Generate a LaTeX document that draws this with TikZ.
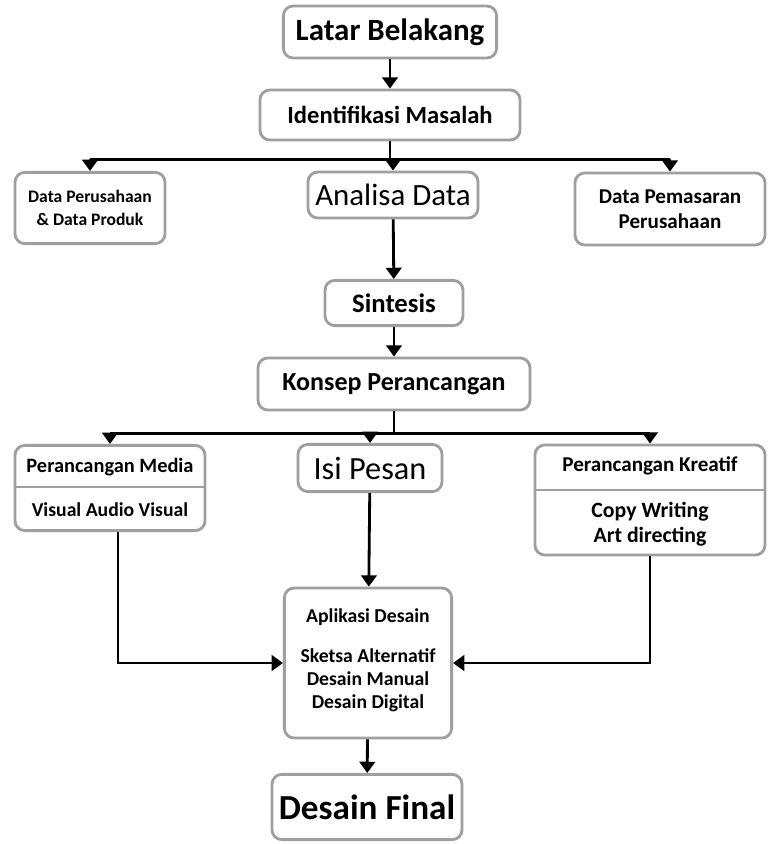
\documentclass[tikz,border=0pt]{standalone}
\usepackage{fontspec}
\setmainfont{Carlito}
\usetikzlibrary{arrows.meta,positioning}

\tikzset{
  kotak/.style={draw=gray!75, line width=2pt, rounded corners=7pt, align=center, inner sep=2pt},
  teks/.style={align=center, inner sep=0pt, font=\bfseries},
  panah/.style={-{Triangle[width=11pt,length=8pt]}, line width=2pt},
  garis/.style={line width=2pt},
  sekat/.style={draw=gray!75, line width=2pt},
}

\begin{document}
\begin{tikzpicture}[x=0.025cm,y=-0.025cm]
	\useasboundingbox (0,0) rectangle (769,844);

	% baris atas
	\node[kotak, minimum width=5.33cm, minimum height=1.3cm, font=\fontsize{22}{24}\selectfont\bfseries] (latar) at (390,32) {Latar Belakang};
	\node[kotak, minimum width=6.5cm, minimum height=1.25cm, font=\fontsize{17.5}{20}\selectfont\bfseries] (ident) at (390,115) {Identifikasi Masalah};

	\node[kotak, minimum width=3.75cm, minimum height=1.78cm, font=\fontsize{12.5}{16}\selectfont\bfseries] (dataA) at (90,208) {Data Perusahaan\\\& Data Produk};
	\node[kotak, minimum width=4.25cm, minimum height=1.15cm, font=\fontsize{22}{24}\selectfont] (analisa) at (393,195) {Analisa Data};
	\node[kotak, minimum width=4.75cm, minimum height=1.8cm, font=\fontsize{15}{18}\selectfont\bfseries] (dataB) at (670,209) {Data Pemasaran\\Perusahaan};

	\node[kotak, minimum width=3.45cm, minimum height=1.13cm, font=\fontsize{19}{22}\selectfont\bfseries] (sintesis) at (394,303) {Sintesis};
	\node[kotak, minimum width=6.8cm, minimum height=1.3cm, font=\fontsize{18.5}{21}\selectfont\bfseries] (konsep) at (394,384) {Konsep Perancangan};

	% baris perancangan
	\node[kotak, minimum width=4.75cm, minimum height=2.13cm] (media) at (110,488) {};
	\draw[sekat] (media.west |- 0,487) -- (media.east |- 0,487);
	\node[teks, font=\fontsize{14.5}{17}\selectfont\bfseries] (media1) at (110,467) {Perancangan Media};
	\node[teks, font=\fontsize{14}{17}\selectfont\bfseries] (media2) at (110,510) {Visual Audio Visual};

	\node[kotak, minimum width=3.6cm, minimum height=1.18cm, font=\fontsize{23}{26}\selectfont] (isi) at (370,468) {Isi Pesan};

	\node[kotak, minimum width=5.75cm, minimum height=2.75cm] (kreatif) at (650,500) {};
	\draw[sekat] (kreatif.west |- 0,490) -- (kreatif.east |- 0,490);
	\node[teks, font=\fontsize{15}{17}\selectfont\bfseries] (kreatif1) at (650,466) {Perancangan Kreatif};
	\node[teks, font=\fontsize{15.5}{18}\selectfont\bfseries] (kreatif2) at (650,524) {Copy Writing\\Art directing};

	% aplikasi
	\node[kotak, minimum width=4.18cm, minimum height=3.75cm] (aplikasi) at (368,663) {};
	\node[teks, font=\fontsize{14}{16.5}\selectfont\bfseries] (aplikasi1) at (368,617) {Aplikasi Desain};
	\node[teks, font=\fontsize{14}{16.5}\selectfont\bfseries] (aplikasi2) at (368,680) {Sketsa Alternatif\\Desain Manual\\Desain Digital};

	\node[kotak, minimum width=4.75cm, minimum height=1.63cm, font=\fontsize{25}{28}\selectfont\bfseries] (final) at (367,807) {Desain Final};

	% panah
	\draw[panah] (latar) -- (ident);
	\draw[garis] (ident.south) -- ++(0,18) coordinate (cabang1);
	\draw[garis] (dataA.north |- cabang1) -- (dataB.north |- cabang1);
	\draw[panah] (dataA.north |- cabang1) -- (dataA.north);
	\draw[panah] (analisa.north |- cabang1) -- (analisa.north);
	\draw[panah] (dataB.north |- cabang1) -- (dataB.north);

	\draw[panah] (analisa) -- (sintesis);
	\draw[panah] (sintesis) -- (konsep);

	\draw[garis] (konsep.south) -- ++(0,22) coordinate (cabang2);
	\draw[garis] (media.north |- cabang2) -- (kreatif.north |- cabang2);
	\draw[panah] (media.north |- cabang2) -- (media.north);
	\draw[panah] (isi.north |- cabang2) -- (isi.north);
	\draw[panah] (kreatif.north |- cabang2) -- (kreatif.north);

	\draw[panah] (isi) -- (aplikasi);
	\draw[panah] ([xshift=0.2cm]media.south) |- (aplikasi.west);
	\draw[panah] (kreatif.south) |- (aplikasi.east);
	\draw[panah] (aplikasi) -- (final);
\end{tikzpicture}
\end{document}
